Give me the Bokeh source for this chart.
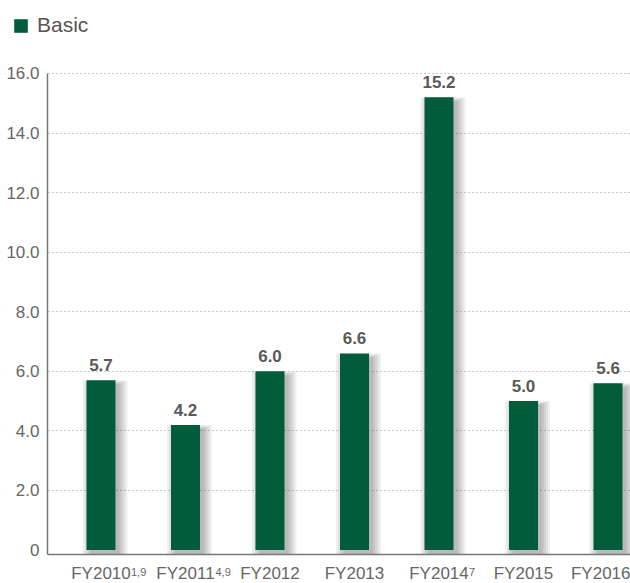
from bokeh.plotting import figure
from bokeh.models import (ColumnDataSource, Range1d, FixedTicker, LabelSet, Legend, LegendItem,
                          BoxAnnotation)
from bokeh.transform import dodge
from bokeh.core.properties import value
from bokeh.embed import file_html
from bokeh.resources import INLINE

# ---- data ----
series_name = "Basic"
categories = ["FY2010", "FY2011", "FY2012", "FY2013", "FY2014", "FY2015", "FY2016"]
footnotes = ["1,9", "4,9", "", "", "7", "", ""]
basic = [5.7, 4.2, 6.0, 6.6, 15.2, 5.0, 5.6]
y_ticks = [0, 2, 4, 6, 8, 10, 12, 14, 16]
y_tick_labels = ["0", "2.0", "4.0", "6.0", "8.0", "10.0", "12.0", "14.0", "16.0"]

GREEN = "#005C3A"
TXT = "#666666"
FONT = "Liberation Sans"

xs = list(range(len(categories)))
labels = [f"{v:.1f}" for v in basic]

W, H = 630, 583
# frame covers the whole canvas; axes sit at fixed locations inside it
X_LEFT, X_RIGHT = -1.189, 6.266   # canvas edges in category units
AXIS_X = -0.633                    # value axis position
Y_BOTTOM, Y_TOP = -1.125, 18.451   # canvas edges in value units
AXIS_Y = -0.151                    # category axis position

p = figure(width=W, height=H, output_backend="svg", toolbar_location=None,
           x_range=Range1d(X_LEFT, X_RIGHT), y_range=Range1d(Y_BOTTOM, Y_TOP),
           min_border_left=0, min_border_right=0, min_border_top=0, min_border_bottom=0)
p.outline_line_color = None
p.background_fill_color = "white"
p.border_fill_color = "white"

PX_X = W / (X_RIGHT - X_LEFT)
PX_Y = H / (Y_TOP - Y_BOTTOM)

# grid (dotted) and a white mask so it starts at the value axis
p.xgrid.grid_line_color = None
p.ygrid.ticker = FixedTicker(ticks=y_ticks[1:])
p.ygrid.grid_line_color = "#999999"
p.ygrid.grid_line_dash = "1 3"
p.ygrid.grid_line_width = 1
p.add_layout(BoxAnnotation(left=X_LEFT - 1, right=AXIS_X, bottom=Y_BOTTOM - 1, top=Y_TOP + 1,
                           fill_color="white", fill_alpha=1,
                           line_color=None, level="underlay"))

# drop shadow layers
for j in range(5):
    sh = ColumnDataSource(dict(x=xs, top=[v - (4 - j) / PX_Y for v in basic]))
    p.vbar(x=dodge("x", 4 / PX_X, range=p.x_range), top="top", bottom=AXIS_Y,
           width=(29 + 4 * j) / PX_X, source=sh,
           fill_color="black", fill_alpha=0.06, line_color=None)

src = ColumnDataSource(dict(x=xs, top=basic, label=labels, note=footnotes))
bars = p.vbar(x="x", top="top", bottom=0, width=29 / PX_X, source=src,
              fill_color=GREEN, line_color=None)

# value labels
p.add_layout(LabelSet(x="x", y="top", text="label", source=src, y_offset=9,
                      text_align="center", text_baseline="alphabetic",
                      text_font=value(FONT), text_font_size="17px", text_font_style="bold",
                      text_color="#595959"))

# footnote superscripts next to the category labels
p.add_layout(LabelSet(x="x", y=AXIS_Y, text="note", source=src, x_offset=30, y_offset=-22,
                      text_align="left", text_baseline="alphabetic",
                      text_font=value(FONT), text_font_size="11px", text_color=TXT))

# axes
p.yaxis.ticker = FixedTicker(ticks=y_ticks)
p.yaxis.major_label_overrides = {t: l for t, l in zip(y_ticks, y_tick_labels)}
p.yaxis.bounds = (AXIS_Y, 16)
p.yaxis.fixed_location = AXIS_X
p.xaxis.ticker = FixedTicker(ticks=xs)
p.xaxis.major_label_overrides = {i: c for i, c in zip(xs, categories)}
p.xaxis.bounds = (AXIS_X, X_RIGHT)
p.xaxis.fixed_location = AXIS_Y
for ax in (p.xaxis[0], p.yaxis[0]):
    ax.axis_line_color = "#777777"
    ax.axis_line_width = 1.5
    ax.major_tick_line_color = None
    ax.minor_tick_line_color = None
    ax.major_tick_out = 0
    ax.major_tick_in = 0
    ax.minor_tick_out = 0
    ax.minor_tick_in = 0
    ax.major_label_text_font = FONT
    ax.major_label_text_font_size = "17px"
    ax.major_label_text_color = TXT
p.yaxis.major_label_standoff = 8
p.xaxis.major_label_standoff = 10

legend = Legend(items=[LegendItem(label=series_name, renderers=[bars])],
                location=(12, 546), padding=0, margin=0, spacing=0,
                glyph_width=17, glyph_height=17, label_standoff=8,
                label_text_font=FONT, label_text_font_size="21px",
                label_text_color="#555555",
                border_line_alpha=0, background_fill_alpha=0)
p.add_layout(legend)

open("out.html", "w").write(file_html(p, INLINE))
